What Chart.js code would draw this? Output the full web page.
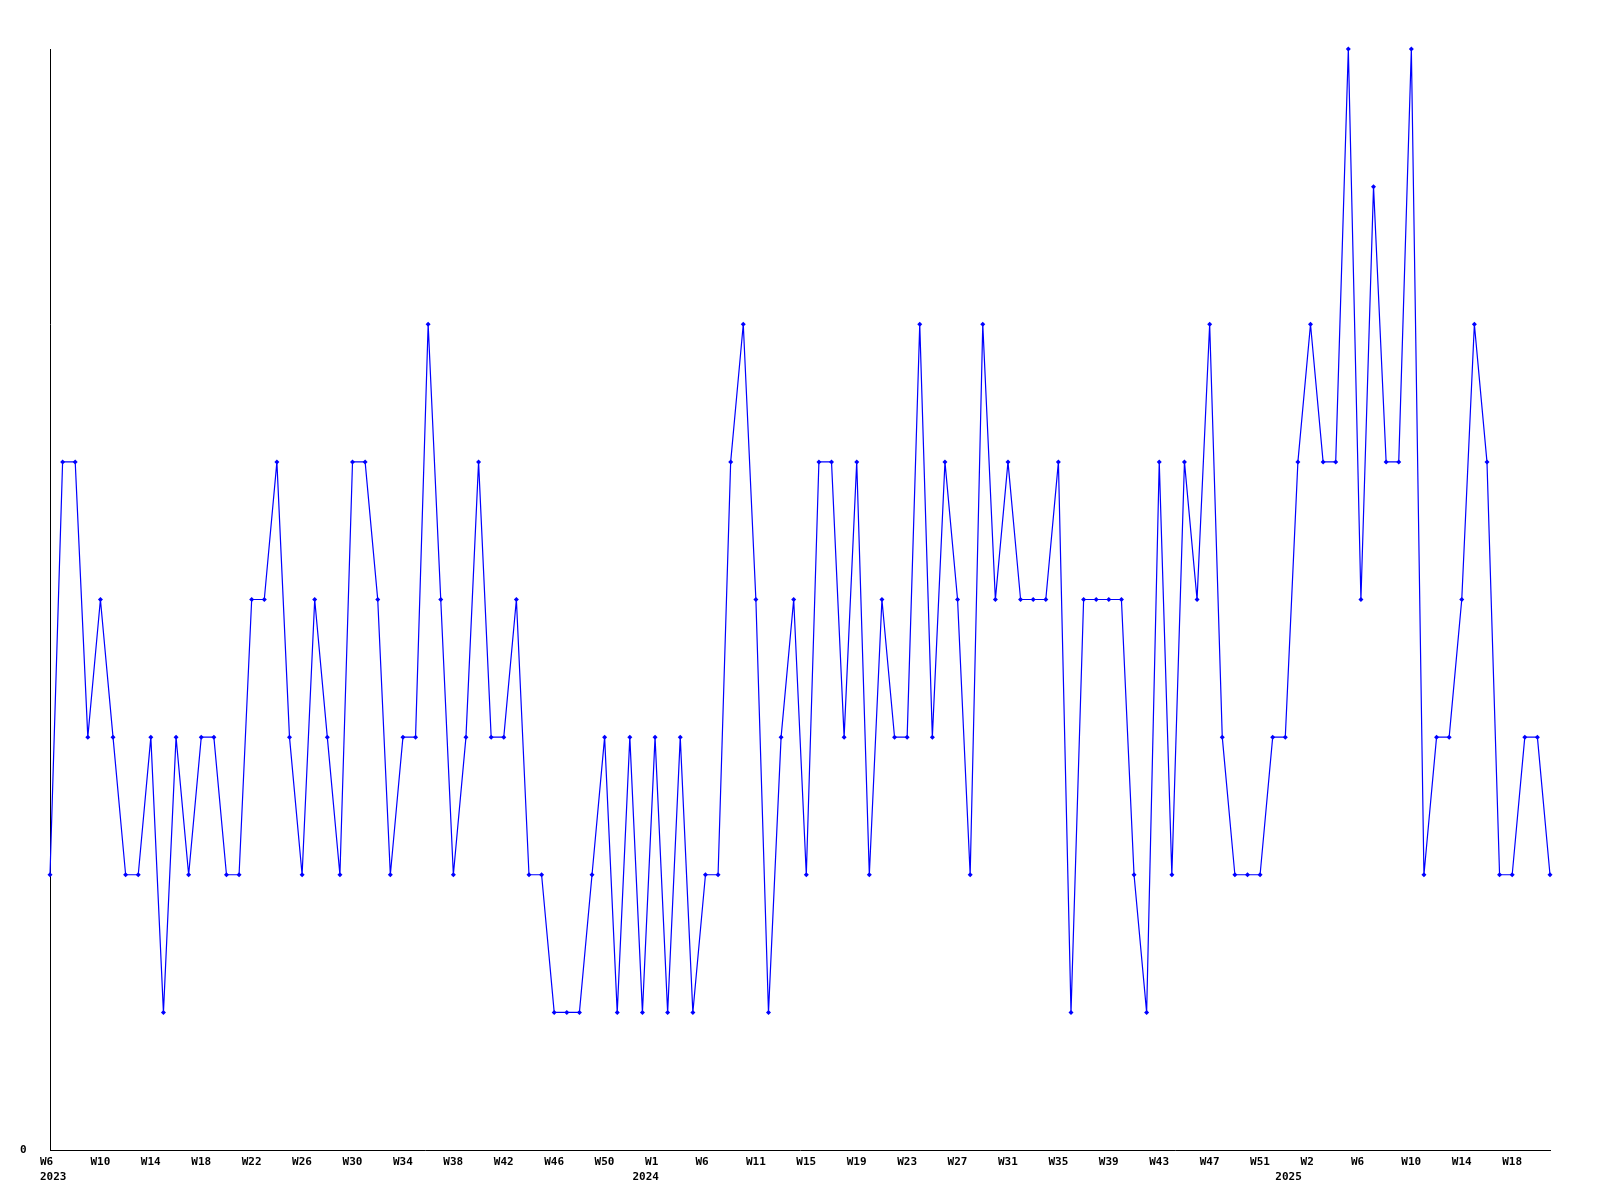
<!DOCTYPE html>
<html>
<head>
<meta charset="utf-8">
<title>Weekly count</title>
<script src="https://cdn.jsdelivr.net/npm/chart.js@4/dist/chart.umd.min.js"></script>
<style>
    body { margin: 0; background: #fff; }
    canvas { display: block; }
</style>
</head>
<body>
<canvas id="weeklyChart" width="1600" height="1200"></canvas>
<script>
// Weekly values, 2023 W6 .. 2025 W21
const values = [
    2, 5, 5, 3, 4, 3, 2, 2, 3, 1, 3, 2, 3, 3, 2, 2, 4, 4, 5, 3,
    2, 4, 3, 2, 5, 5, 4, 2, 3, 3, 6, 4, 2, 3, 5, 3, 3, 4, 2, 2,
    1, 1, 1, 2, 3, 1, 3, 1, 3, 1, 3, 1, 2, 2, 5, 6, 4, 1, 3, 4,
    2, 5, 5, 3, 5, 2, 4, 3, 3, 6, 3, 5, 4, 2, 6, 4, 5, 4, 4, 4,
    5, 1, 4, 4, 4, 4, 2, 1, 5, 2, 5, 4, 6, 3, 2, 2, 2, 3, 3, 5,
    6, 5, 5, 8, 4, 7, 5, 5, 8, 2, 3, 3, 4, 6, 5, 2, 2, 3, 3, 2
];

// Tick labels, one every 4 weeks
const weekTicks = [
    'W6', 'W10', 'W14', 'W18', 'W22', 'W26', 'W30', 'W34', 'W38', 'W42', 'W46', 'W50',
    'W1', 'W6', 'W11', 'W15', 'W19', 'W23', 'W27', 'W31', 'W35', 'W39', 'W43', 'W47', 'W51',
    'W2', 'W6', 'W10', 'W14', 'W18'
];
const tickStep = 4;

// Year labels and the week index where each one sits
const years = ['2023', '2024', '2025'];
const yearStart = [0, 47, 98];

const yTicks = [0];

document.addEventListener('DOMContentLoaded', function() {
    const weekLabels = values.map((v, i) => i % tickStep === 0 ? (weekTicks[i / tickStep] || '') : '');
    const yearLabels = values.map(() => '');
    years.forEach((y, k) => { yearLabels[yearStart[k]] = y; });

    const tickFont = { family: "'DejaVu Sans Mono', monospace", size: 11, weight: 'bold' };

    const ctx = document.getElementById('weeklyChart').getContext('2d');
    new Chart(ctx, {
        type: 'line',
        data: {
            labels: weekLabels,
            datasets: [{
                data: values,
                borderColor: '#0000ff',
                backgroundColor: '#0000ff',
                borderWidth: 1.2,
                tension: 0,
                fill: false,
                clip: false,
                pointStyle: 'rectRot',
                pointRadius: 2.5,
                pointBorderWidth: 0,
                pointHoverRadius: 2.5
            }]
        },
        options: {
            responsive: false,
            animation: false,
            layout: {
                padding: { left: 20, right: 50, top: 49, bottom: 10 }
            },
            plugins: {
                legend: { display: false },
                tooltip: { enabled: false }
            },
            scales: {
                x: {
                    type: 'category',
                    position: 'bottom',
                    grid: { display: false, drawTicks: false },
                    border: { display: true, color: '#000', width: 1 },
                    ticks: {
                        autoSkip: false,
                        maxRotation: 0,
                        minRotation: 0,
                        align: 'start',
                        labelOffset: -10,
                        padding: 6,
                        color: '#000',
                        font: tickFont
                    },
                    afterFit: function(scale) { scale.height = 20; }
                },
                years: {
                    type: 'category',
                    position: 'bottom',
                    labels: yearLabels,
                    grid: { display: false, drawTicks: false },
                    border: { display: false },
                    ticks: {
                        autoSkip: false,
                        maxRotation: 0,
                        minRotation: 0,
                        align: 'start',
                        labelOffset: -10,
                        padding: 1,
                        color: '#000',
                        font: tickFont
                    },
                    afterFit: function(scale) { scale.height = 20; }
                },
                y: {
                    min: 0,
                    max: 8,
                    grid: { display: false, drawTicks: false },
                    border: { display: true, color: '#000', width: 1 },
                    ticks: {
                        stepSize: 1,
                        crossAlign: 'far',
                        color: '#000',
                        font: tickFont,
                        callback: function(v) { return yTicks.includes(v) ? String(v) : ''; }
                    },
                    afterFit: function(scale) { scale.width = 30; }
                }
            }
        }
    });
});
</script>
</body>
</html>
